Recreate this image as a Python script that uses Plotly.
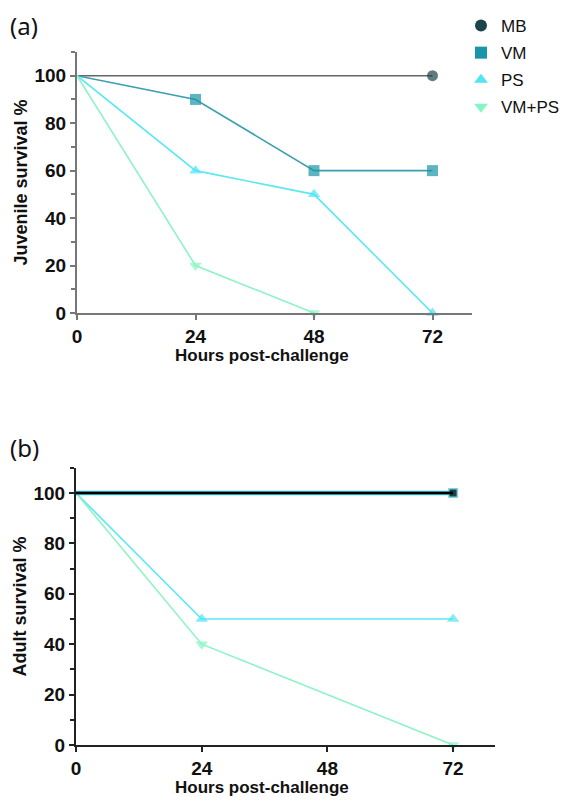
import plotly.graph_objects as go

series = ["MB", "VM", "PS", "VM+PS"]
colors = {"MB": "#1d4449", "VM": "#1895a6", "PS": "#4fe6f2", "VM+PS": "#86f5c4"}
symbols = {"MB": "circle", "VM": "square", "PS": "triangle-up", "VM+PS": "triangle-down"}

x_ticks = [0, 24, 48, 72]
y_ticks = [0, 20, 40, 60, 80, 100]

# Panel (a) juvenile survival
juv_x = {"MB": [0, 72], "VM": [0, 24, 48, 72], "PS": [0, 24, 48, 72], "VM+PS": [0, 24, 48]}
juv_y = {"MB": [100, 100], "VM": [100, 90, 60, 60], "PS": [100, 60, 50, 0], "VM+PS": [100, 20, 0]}

# Panel (b) adult survival
ad_x = {"MB": [0, 72], "VM": [0, 72], "PS": [0, 24, 72], "VM+PS": [0, 24, 72]}
ad_y = {"MB": [100, 100], "VM": [100, 100], "PS": [100, 50, 50], "VM+PS": [100, 40, 0]}

line_a = {"MB": "#666666", "VM": "#3a9fae", "PS": "#5ce8f2", "VM+PS": "#8ff3c6"}

W, H = 565, 793  # page body has an 8px margin

fig = go.Figure()

def msizes(xs, s):
    return [0 if v == 0 else s for v in xs]

# panel a
for s in series:
    fig.add_trace(go.Scatter(
        x=juv_x[s], y=juv_y[s], mode="lines+markers", xaxis="x", yaxis="y",
        line=dict(color=line_a[s], width=1.6),
        marker=dict(symbol=symbols[s], color=colors[s], size=msizes(juv_x[s], 11),
                    line=dict(width=0)),
        showlegend=False, cliponaxis=False))

# panel b
for s in ["PS", "VM+PS"]:
    fig.add_trace(go.Scatter(
        x=ad_x[s], y=ad_y[s], mode="lines+markers", xaxis="x2", yaxis="y2",
        line=dict(color=line_a[s], width=1.6),
        marker=dict(symbol=symbols[s], color=colors[s], size=msizes(ad_x[s], 11),
                    line=dict(width=0)),
        showlegend=False, cliponaxis=False))
fig.add_trace(go.Scatter(
    x=ad_x["VM"], y=ad_y["VM"], mode="lines+markers", xaxis="x2", yaxis="y2",
    line=dict(color="#3ec6d6", width=4.5),
    marker=dict(symbol="square", color="#3ec6d6", size=msizes(ad_x["VM"], 10), line=dict(width=0)),
    showlegend=False, cliponaxis=False))
fig.add_trace(go.Scatter(
    x=ad_x["MB"], y=ad_y["MB"], mode="lines+markers", xaxis="x2", yaxis="y2",
    line=dict(color="#000000", width=2.6),
    marker=dict(symbol="square", color="#000000", size=msizes(ad_x["MB"], 7), line=dict(width=0)),
    showlegend=False, cliponaxis=False))

# legend entries (markers only)
for s in series:
    fig.add_trace(go.Scatter(
        x=[None], y=[None], mode="markers", name=s, xaxis="x", yaxis="y",
        legendgroup=s,
        marker=dict(symbol=symbols[s], color=colors[s], size=11, line=dict(width=0)),
        showlegend=True))

tickfont = dict(family="Liberation Sans, Arial, sans-serif", size=19, color="#111111")
xtitlefont = dict(family="Liberation Sans, Arial, sans-serif", size=17, color="#111111")
ytitlefont = dict(family="Liberation Sans, Arial, sans-serif", size=18, color="#111111")

def xaxis(domain, anchor, col):
    return dict(domain=domain, anchor=anchor, range=[0, 80], tickvals=x_ticks,
                ticktext=[f"<b>{v}</b>" for v in x_ticks],
                showline=True, linecolor=col, linewidth=2, ticks="outside", ticklen=5,
                tickcolor=col, tickwidth=1.5, showgrid=False, zeroline=False,
                tickfont=tickfont, automargin=False)

def yaxis(domain, anchor, col, title):
    return dict(domain=domain, anchor=anchor, range=[0, 110], tickvals=y_ticks,
                ticktext=[f"<b>{v}</b>" for v in y_ticks],
                showline=True, linecolor=col, linewidth=2, ticks="outside", ticklen=5,
                tickcolor=col, tickwidth=1.5, showgrid=False, zeroline=False,
                minor=dict(tickvals=[10, 30, 50, 70, 90, 110], ticks="outside", ticklen=4,
                           tickcolor=col, tickwidth=1.5),
                tickfont=tickfont, automargin=False,
                title=dict(text=f"<b>{title}</b>", font=ytitlefont, standoff=2))

fig.update_layout(
    width=W, height=H,
    margin=dict(l=0, r=0, t=0, b=0),
    paper_bgcolor="white", plot_bgcolor="white",
    xaxis=xaxis([69 / W, 464 / W], "y", "#777777"),
    yaxis=yaxis([1 - 305 / H, 1 - 44 / H], "x", "#777777", "Juvenile survival %"),
    xaxis2=xaxis([68 / W, 487 / W], "y2", "#222222"),
    yaxis2=yaxis([1 - 737 / H, 1 - 459.8 / H], "x2", "#222222", "Adult survival %"),
    legend=dict(x=1 - 8 / W, y=1, xanchor="right", yanchor="top",
                font=dict(family="Liberation Sans, Arial, sans-serif", size=17, color="#111111"),
                itemsizing="constant", tracegroupgap=2, itemwidth=30,
                bgcolor="rgba(0,0,0,0)"),
    annotations=[
        dict(text="(a)", x=0, y=1 + 1 / H, xref="paper", yref="paper", showarrow=False,
             xanchor="left", yanchor="top",
             font=dict(family="Noto Sans, Open Sans, sans-serif", size=24, color="#111111")),
        dict(text="(b)", x=0, y=1 - 421 / H, xref="paper", yref="paper", showarrow=False,
             xanchor="left", yanchor="top",
             font=dict(family="Noto Sans, Open Sans, sans-serif", size=24, color="#111111")),
        dict(text="<b>Hours post-challenge</b>", x=254 / W, y=1 - 347 / H, xref="paper",
             yref="paper", showarrow=False, xanchor="center", yanchor="middle", font=xtitlefont),
        dict(text="<b>Hours post-challenge</b>", x=254 / W, y=1 - 779 / H, xref="paper",
             yref="paper", showarrow=False, xanchor="center", yanchor="middle", font=xtitlefont),
    ],
)

fig.write_html("out.html")
